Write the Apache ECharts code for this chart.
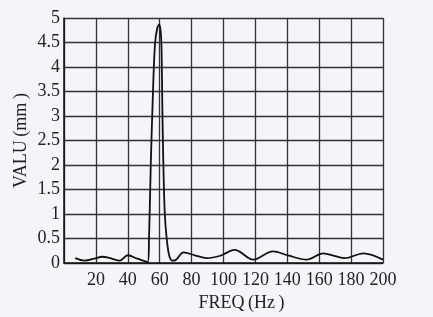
<!DOCTYPE html>
<html><head><meta charset="utf-8">
<script src="https://cdn.jsdelivr.net/npm/echarts@6/dist/echarts.min.js"></script>
<style>html,body{margin:0;padding:0;background:#f4f5f9;}#c{width:433px;height:317px;}</style>
</head><body><div id="c"></div>
<script>
var freq = [7,13,19,24,29,35,40,46,52.5,53.3,54.4,55.6,57,58.5,59.7,60.7,61.2,61.6,62.3,63.2,64.4,66,68,70,75,82,89.5,98,107,118.7,131,141,152,162.6,170,176,187.7,200];
var valu = [0.10,0.05,0.09,0.13,0.10,0.05,0.16,0.09,0.02,0.5,2.0,3.3,4.45,4.8,4.87,4.7,4.3,3.3,2.0,1.0,0.5,0.15,0.05,0.06,0.22,0.16,0.10,0.15,0.27,0.07,0.24,0.15,0.07,0.20,0.14,0.10,0.20,0.07];
var xTicks = [0,20,40,60,80,100,120,140,160,180,200];
var yTicks = [0,0.5,1,1.5,2,2.5,3,3.5,4,4.5,5];
var pts = freq.map(function(f,i){return [f, valu[i]];});
var chart = echarts.init(document.getElementById('c'));
var font = '"Liberation Serif", serif';
chart.setOption({
  backgroundColor:'#f4f5f9',
  animation:false,
  grid:{left:64,right:50,top:18,bottom:53,show:false},
  xAxis:{type:'value',min:xTicks[0],max:xTicks[xTicks.length-1],interval:20,
    name:'FREQ\u2009(Hz\u2009)',nameLocation:'middle',nameGap:24,
    nameTextStyle:{fontFamily:font,fontSize:18,color:'#222',padding:[0,0,0,36]},
    axisLine:{show:true,lineStyle:{color:'#111',width:1.5}},
    axisTick:{show:false},
    axisLabel:{fontFamily:font,fontSize:18,color:'#222',margin:8,
      formatter:function(v){return v===0?'':String(v);}},
    splitLine:{show:true,lineStyle:{color:'#333',width:1.3}}},
  yAxis:{type:'value',min:yTicks[0],max:yTicks[yTicks.length-1],interval:0.5,
    name:'VALU\u2009(mm\u2009)',nameLocation:'middle',nameGap:34,nameRotate:90,
    nameMoveOverlap:false,
    nameTextStyle:{fontFamily:font,fontSize:18,color:'#222'},
    axisLine:{show:true,lineStyle:{color:'#111',width:1.5}},
    axisTick:{show:false},
    axisLabel:{fontFamily:font,fontSize:18,color:'#222',margin:4},
    splitLine:{show:true,lineStyle:{color:'#333',width:1.3}}},
  series:[{type:'line',data:pts,smooth:0.35,symbol:'none',
    lineStyle:{color:'#111',width:1.8}}]
});
</script></body></html>
